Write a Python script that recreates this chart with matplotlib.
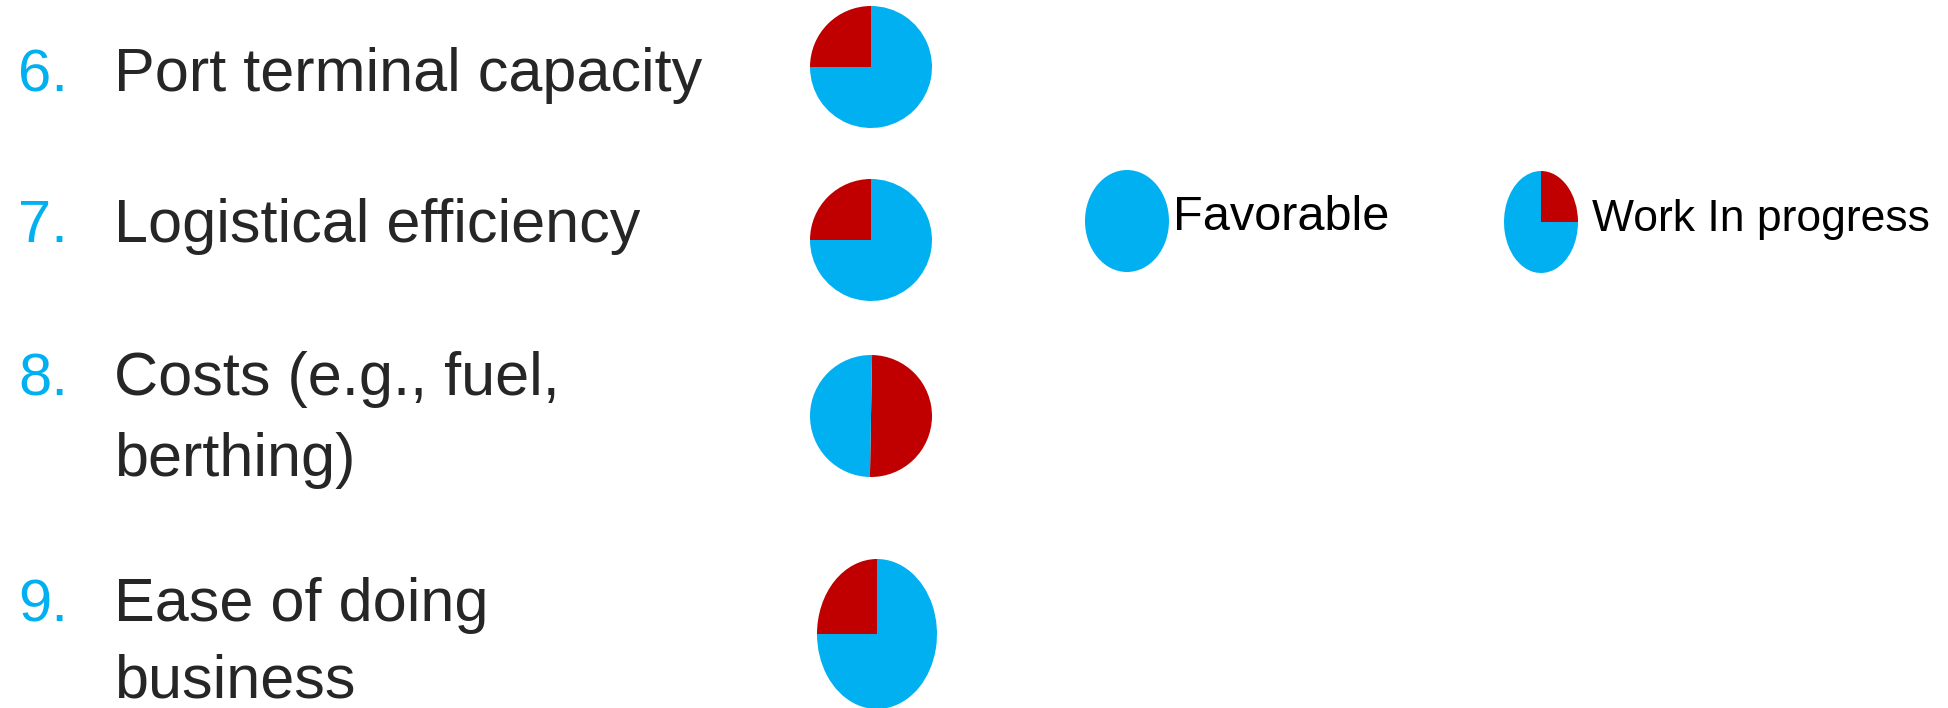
import matplotlib
matplotlib.use("Agg")
import matplotlib.pyplot as plt

# data
numbers = ['6.', '7.', '8.', '9.']
labels = ['Port terminal capacity', 'Logistical efficiency',
          'Costs (e.g., fuel,\nberthing)', 'Ease of doing\nbusiness']
work_in_progress = [25, 25, 50, 25]
favorable = [75, 75, 50, 75]
legend_labels = ['Favorable', 'Work In progress']
legend_wip = [0, 25]
legend_fav = [100, 75]

W, H = 1949, 708
BLUE = '#00B0F0'
RED = '#C00000'
TXT = '#262626'

fig = plt.figure(figsize=(W / 100, H / 100), dpi=100)
fig.patch.set_facecolor('white')


def pie_at(cx, cy, rx, ry, red, blue, start):
    # place an axes exactly over the pie's bounding box (pixel coords)
    ax = fig.add_axes([(cx - rx) / W, 1 - (cy + ry) / H, 2 * rx / W, 2 * ry / H])
    ax.pie([red, blue], colors=[RED, BLUE], startangle=start, counterclock=True,
           radius=1, wedgeprops=dict(linewidth=0))
    ax.set_xlim(-1, 1)
    ax.set_ylim(-1, 1)
    ax.set_aspect('auto')
    ax.axis('off')
    return ax


# row labels
baselines = [[91], [242], [395, 476], [621, 698]]
for num, lab, bl in zip(numbers, labels, baselines):
    fig.text(18 / W, 1 - bl[0] / H, num, color=BLUE, fontsize=43,
             family='Liberation Sans', va='baseline')
    for line, y in zip(lab.split('\n'), bl):
        fig.text(114 / W, 1 - y / H, line, color=TXT, fontsize=44,
                 family='Liberation Sans', va='baseline')

# row pies
pie_boxes = [(871, 67, 61, 61), (871, 240, 61, 61), (871, 416, 61, 61), (877, 634, 60, 75)]
starts = [90, 90, -91, 90]
for box, r, b, s in zip(pie_boxes, work_in_progress, favorable, starts):
    pie_at(*box, r, b, s)

# legend
pie_at(1127, 221, 42, 51, legend_wip[0], legend_fav[0], 90)
fig.text(1173 / W, 1 - 230 / H, legend_labels[0], color='black', fontsize=35,
         family='Liberation Sans', va='baseline')
pie_at(1541, 222, 37, 51, legend_wip[1], legend_fav[1], 0)
fig.text(1592 / W, 1 - 231 / H, legend_labels[1], color='black', fontsize=32,
         family='Liberation Sans', va='baseline')

fig.savefig('out.png', dpi=100, facecolor='white')
